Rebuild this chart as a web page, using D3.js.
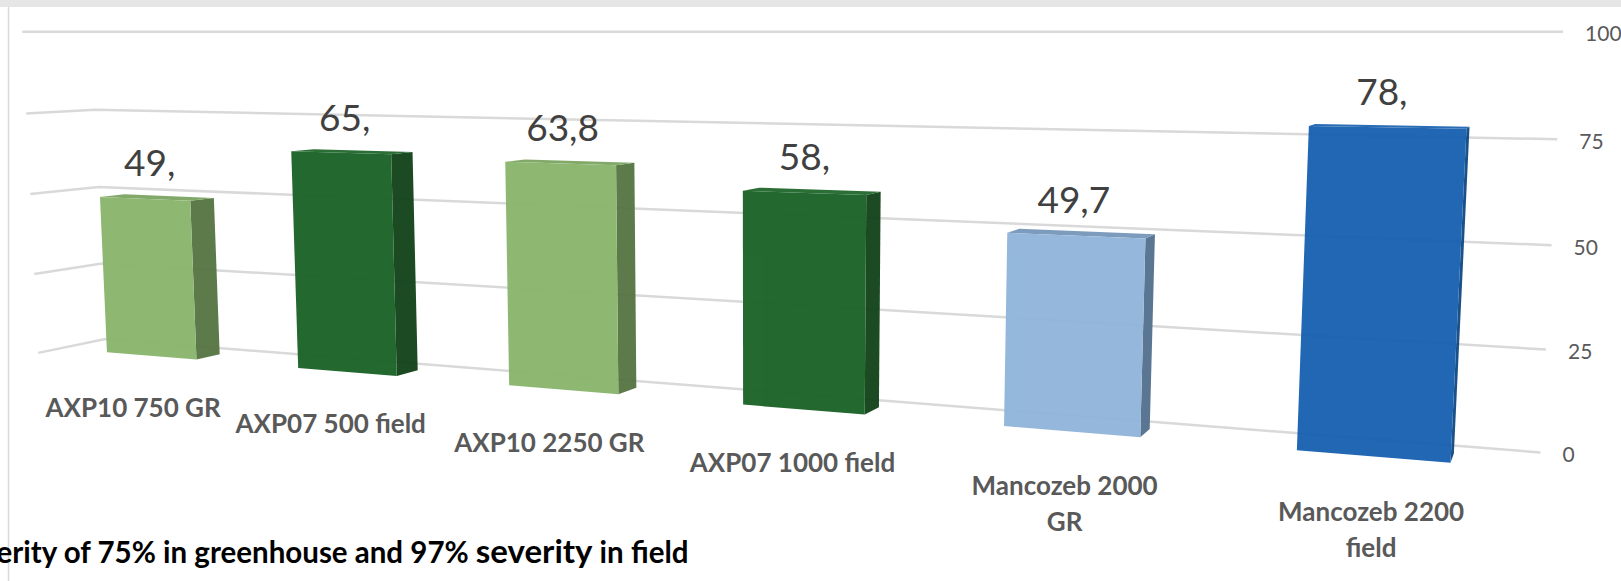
<!DOCTYPE html>
<html>
<head>
<meta charset="utf-8">
<script src="https://cdn.jsdelivr.net/npm/d3@7"></script>
<style>
  body { margin: 0; background: #fff; }
  svg { display: block; font-family: "Lato", "Open Sans", sans-serif; }
</style>
</head>
<body>
<div id="chart"></div>
<script>
// ---- data ----
var categories = ["AXP10 750 GR", "AXP07 500 field", "AXP10 2250 GR", "AXP07 1000 field", "Mancozeb 2000\nGR", "Mancozeb 2200\nfield"];
var efficacy = [49, 65, 63.8, 58, 49.7, 78];
var yTicks = [0, 25, 50, 75, 100];
var barShade = ["lightGreen", "darkGreen", "lightGreen", "darkGreen", "lightBlue", "darkBlue"];

var palette = {
    lightGreen: { front: "#8AB66D", side: "#577544", top: "#7DA663" },
    darkGreen:  { front: "#1B6327", side: "#12431B", top: "#236A2F" },
    lightBlue:  { front: "#90B5DA", side: "#54718E", top: "#7899BB" },
    darkBlue:   { front: "#1861B0", side: "#124A85", top: "#2268B3" }
};

var width = 1621, height = 581;

// ---- 3D camera (perspective, rotated so the left side recedes) ----
var cam = { f: 1941, cx: 762, cy: 290, pitch: Math.atan(0.133), yaw: Math.atan2(-0.3955, 0.9185), x: 449, y: 100, z: 493 };
var cosT = Math.cos(cam.pitch), sinT = Math.sin(cam.pitch);
var cosP = Math.cos(cam.yaw), sinP = Math.sin(cam.yaw);

function project(X, Y, Z) {
    var dX = X - cam.x, dY = Y - cam.y, dZ = Z - cam.z;
    var x1 = dX * cosP + dZ * sinP;
    var z1 = dX * sinP - dZ * cosP;
    var zc = -dY * sinT + z1 * cosT;
    var yu = dY * cosT + z1 * sinT;
    return [cam.cx + cam.f * x1 / zc, cam.cy - cam.f * yu / zc];
}

// ---- scales (world units) ----
var x = d3.scaleBand()
    .domain(d3.range(categories.length))
    .range([2, 440])
    .paddingInner(0.52)
    .paddingOuter(0.26);

var y = d3.scaleLinear().domain([0, 100]).range([0, 100]);

var wallX0 = x.range()[0], wallX1 = x.range()[1];
var floorDepth = 30, barFront = 20.5, barBack = 9.5;

var svg = d3.select("#chart").append("svg")
    .attr("width", width)
    .attr("height", height);

// title strip (cut off) and chart border
svg.append("rect").attr("x", 0).attr("y", 0).attr("width", width).attr("height", 7).attr("fill", "#e6e6e6");
svg.append("line").attr("x1", 8.5).attr("x2", 8.5).attr("y1", 7).attr("y2", height)
    .attr("stroke", "#d9d9d9").attr("stroke-width", 1.5);

// gridlines: side wall + back wall
var line = d3.line();
svg.append("g").selectAll("path")
    .data(yTicks)
    .join("path")
    .attr("d", function(t) {
        return line([project(wallX0, y(t), floorDepth), project(wallX0, y(t), 0), project(wallX1, y(t), 0)]);
    })
    .attr("fill", "none")
    .attr("stroke", "#d9d9d9")
    .attr("stroke-width", 2.5);

// axis labels
svg.append("g").selectAll("text")
    .data(yTicks)
    .join("text")
    .attr("x", function(t) { return project(wallX1, y(t), 0)[0] + 22; })
    .attr("y", function(t) { return project(wallX1, y(t), 0)[1] + 1; })
    .attr("dominant-baseline", "central")
    .attr("font-size", 21)
    .attr("fill", "#595959")
    .text(function(t) { return t; });

// bars
var poly = d3.line().curve(d3.curveLinearClosed);
var bars = svg.append("g").selectAll("g")
    .data(efficacy)
    .join("g")
    .attr("opacity", 0.96);

function face(d, i, which) {
    var x0 = x(i), x1 = x0 + x.bandwidth(), h = y(d);
    var pts;
    if (which === "side") pts = [[x1, 0, barFront], [x1, 0, barBack], [x1, h, barBack], [x1, h, barFront]];
    else if (which === "top") pts = [[x0, h, barFront], [x1, h, barFront], [x1, h, barBack], [x0, h, barBack]];
    else pts = [[x0, 0, barFront], [x1, 0, barFront], [x1, h, barFront], [x0, h, barFront]];
    return poly(pts.map(function(p) { return project(p[0], p[1], p[2]); }));
}

["side", "top", "front"].forEach(function(which) {
    bars.append("path")
        .attr("d", function(d, i) { return face(d, i, which); })
        .attr("fill", function(d, i) { return palette[barShade[i]][which]; });
});

// value labels
var fmt = function(v) { return Number.isInteger(v) ? v + "," : String(v).replace(".", ","); };
svg.append("g").selectAll("text")
    .data(efficacy)
    .join("text")
    .attr("x", function(d, i) { return project(x(i) + x.bandwidth() / 2, y(d), 15)[0] - 7; })
    .attr("y", function(d, i) { return project(x(i) + x.bandwidth() / 2, y(d), 15)[1] - 21; })
    .attr("text-anchor", "middle")
    .attr("font-size", 37)
    .attr("fill", "#404040")
    .text(fmt);

// category labels
svg.append("g").selectAll("text")
    .data(categories)
    .join("text")
    .attr("text-anchor", "middle")
    .attr("font-size", 26)
    .attr("font-weight", "bold")
    .attr("fill", "#595959")
    .each(function(d, i) {
        var p = project(x(i) + x.bandwidth() / 2, 0, floorDepth);
        d3.select(this).selectAll("tspan")
            .data(d.split("\n"))
            .join("tspan")
            .attr("x", p[0] + 3)
            .attr("y", function(s, k) { return p[1] + 56 + k * 36; })
            .text(function(s) { return s; });
    });

// footnote (cut off at the left, as in the source)
var note = svg.append("text")
    .attr("y", 563)
    .attr("font-weight", "bold")
    .attr("font-size", 29.5)
    .attr("fill", "#000");
note.append("tspan").text("severity of 75% in greenhouse and 97% ");
note.append("tspan").attr("font-size", 33).text("severity");
note.append("tspan").text(" in field");

var probe = svg.append("text").attr("font-weight", "bold").attr("font-size", 29.5).text("sev");
var cut = probe.node().getComputedTextLength();
probe.remove();
note.attr("x", -cut - 3);
</script>
</body>
</html>
